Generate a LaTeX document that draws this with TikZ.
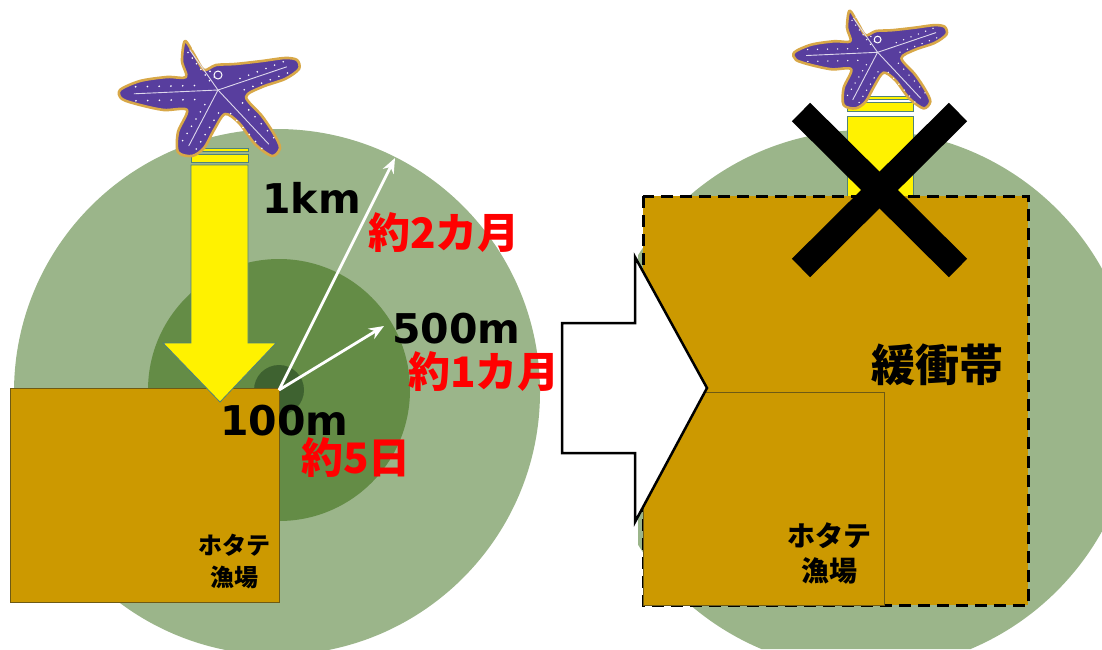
\documentclass[tikz,border=0pt]{standalone}
\usepackage{fontspec}
\setmainfont{Noto Sans CJK JP}
\newfontfamily\latin{DejaVu Sans}
\usetikzlibrary{arrows.meta}

\definecolor{outersea}{RGB}{155,181,138}
\definecolor{middlesea}{RGB}{100,140,70}
\definecolor{innersea}{RGB}{62,98,48}
\definecolor{farmgold}{RGB}{204,153,0}
\definecolor{farmedge}{RGB}{110,90,20}
\definecolor{yellowedge}{RGB}{80,130,120}
\definecolor{starpurple}{RGB}{88,62,158}
\definecolor{starrim}{RGB}{216,168,72}

% starfish, drawn around its body centre
\tikzset{
  seastar/.pic={
    \fill[starpurple, draw=starrim, line width=2.6pt, line join=round]
      plot[smooth cycle, tension=0.5] coordinates {
        (-37,-51) (-27,-36) (-18,-22) (-6,-27) (13,-28) (40,-31) (63,-34)
        (75,-32) (77,-23) (63,-13) (40,-5) (24,5) (40,24) (52,42)
        (58,56) (50,64) (33,52) (17,31) (3,22) (-8,38) (-18,56)
        (-30,64) (-44,60) (-44,40) (-35,18) (-58,18) (-82,13) (-100,7)
        (-102,-2) (-82,-11) (-55,-15) (-36,-15) (-40,-31)};
    \foreach \tx/\ty/\w in {-36/-47/3, 72/-28/6, 52/58/8, -37/60/8, -98/2/7}{
      \draw[white!80!starpurple, line width=0.9pt] (-4,-2) -- (0.9*\tx,0.9*\ty);
      \pgfmathsetmacro\len{veclen(\tx,\ty)}
      \foreach \t in {0.28,0.4,0.52,0.64,0.76,0.88}{
        \fill[white] ({\t*\tx-\w*\ty/\len},{\t*\ty+\w*\tx/\len}) circle (0.9pt);
        \fill[white] ({\t*\tx+\w*\ty/\len},{\t*\ty-\w*\tx/\len}) circle (0.9pt);
      }
    }
    \draw[white, line width=1pt] (-4,-17) circle (4pt);
  }
}

\begin{document}
\begin{tikzpicture}[x=1pt,y=-1pt]
  \tikzstyle{farm} = [fill=farmgold, draw=farmedge, line width=0.8pt]
  \tikzstyle{shaft} = [fill=yellow, draw=yellowedge, line width=0.8pt]
  \tikzstyle{reach} = [draw=white, line width=2.8pt, -{Stealth[length=15pt, width=12pt]}]
  \tikzstyle{rangelabel} = [font=\latin\bfseries\fontsize{41}{44}\selectfont, inner sep=0pt, anchor=base west]
  \tikzstyle{period} = [text=red, font=\bfseries\fontsize{42}{46}\selectfont, inner sep=0pt, anchor=base]
  \tikzstyle{farmlabel} = [font=\bfseries, align=center, inner sep=0pt]

  \useasboundingbox (0,0) rectangle (1102,649);
  \clip (0,0) rectangle (1102,649);

  % before: spreading range around the farm corner
  \coordinate (ctrL) at (279,390);
  \fill[outersea] (277,392) circle (263pt);
  \fill[middlesea] (ctrL) circle (131pt);
  \fill[innersea] (ctrL) circle (25pt);

  \path[farm] (10,388) rectangle (279,602);

  % yellow arrow under the starfish
  \path[shaft] (191,148) rectangle (248,151);
  \path[shaft] (191,154) rectangle (248,162);
  \path[shaft] (191,165) -- (248,165) -- (248,343) -- (276,343) -- (220,402)
    -- (163,343) -- (191,343) -- cycle;
  \pic at (222,92) {seastar};

  % ranges
  \coordinate (edge1km) at (395,158);
  \coordinate (edge500) at (384,326);
  \draw[reach] (ctrL) -- (edge1km);
  \draw[reach] (ctrL) -- (edge500);

  \node[rangelabel] (km1) at (262,213) {1km};
  \node[period] (mon2) at (444,248) {約2カ月};
  \node[rangelabel] (m500) at (392,343) {500m};
  \node[period] (mon1) at (484,387) {約1カ月};
  \node[rangelabel] (m100) at (220,435) {100m};
  \node[period] (day5) at (356,473) {約5日};
  \node[farmlabel, font=\bfseries\fontsize{24}{32}\selectfont] (farmL) at (234,561) {ホタテ\\漁場};

  % after: buffer zone
  \begin{scope}
    \clip (638,0) rectangle (1102,605) (0,605) rectangle (1102,649);
    \fill[outersea] (866,400) circle (270pt);
  \end{scope}
  \path[shaft] (847,96) rectangle (913,99);
  \path[shaft] (847,102) rectangle (913,111);
  \path[shaft] (847,116) rectangle (913,240);
  \pic[scale=0.85] at (881,54) {seastar};

  \path[fill=farmgold, draw=black, line width=3pt, dash pattern=on 12pt off 7pt]
    (643,196) rectangle (1028,605);
  \path[farm] (643,392) rectangle (884,605);

  % big arrow between the two
  \draw[fill=white, line width=2.5pt, line join=miter]
    (562,323) -- (635,323) -- (635,257) -- (707,388) -- (635,522) -- (635,453)
    -- (562,453) -- cycle;

  % cross over the blocked arrow
  \draw[line width=26pt] (801,112) -- (958,268);
  \draw[line width=26pt] (958,112) -- (801,268);

  \node[font=\bfseries\fontsize{44}{48}\selectfont, inner sep=0pt, anchor=base] (buffer) at (937,381) {緩衝帯};
  \node[farmlabel, font=\bfseries\fontsize{28}{35}\selectfont] (farmR) at (829,553) {ホタテ\\漁場};
\end{tikzpicture}
\end{document}
